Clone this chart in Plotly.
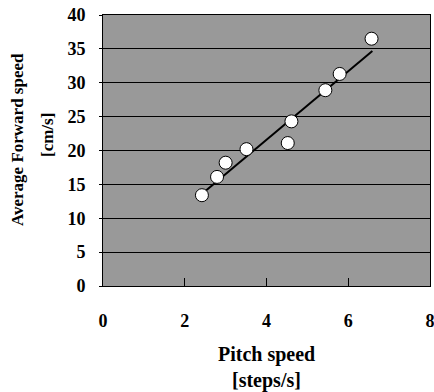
import plotly.graph_objects as go

pitch_speed = [2.42, 2.79, 3.0, 3.51, 4.52, 4.61, 5.44, 5.79, 6.57]
forward_speed = [13.4, 16.1, 18.2, 20.2, 21.1, 24.3, 28.9, 31.3, 36.5]
trend_x = [2.44, 6.59]
trend_y = [13.7, 34.7]
x_ticks = [0, 2, 4, 6, 8]
y_ticks = [0, 5, 10, 15, 20, 25, 30, 35, 40]

FONT = "Liberation Serif"

fig = go.Figure()
fig.add_trace(go.Scatter(x=trend_x, y=trend_y, mode="lines",
                         line=dict(color="black", width=2), showlegend=False))
fig.add_trace(go.Scatter(x=pitch_speed, y=forward_speed, mode="markers",
                         marker=dict(size=13, color="white",
                                     line=dict(color="black", width=1)),
                         showlegend=False))

fig.update_layout(
    width=434, height=392,
    margin=dict(l=103, r=4, t=15, b=106),
    paper_bgcolor="white", plot_bgcolor="#999999",
    font=dict(family=FONT, size=18, color="black"),
    xaxis=dict(range=[0, 8], tickvals=x_ticks,
               ticktext=[f"<b>{v}</b>" for v in x_ticks],
               showgrid=False, zeroline=False, automargin=False,
               showline=True, linecolor="black", linewidth=1, mirror=True,
               ticks="inside", ticklen=8, tickcolor="black",
               ticklabelstandoff=18, ticklabeloverflow="allow",
               tickfont=dict(family=FONT, size=18)),
    yaxis=dict(range=[0, 40], tickvals=y_ticks,
               ticktext=[f"<b>{v}</b>" for v in y_ticks],
               showgrid=True, gridcolor="black",
               gridwidth=1, zeroline=False, automargin=False,
               showline=True, linecolor="black", linewidth=1, mirror=True,
               ticks="outside", ticklen=3, tickcolor="black",
               ticklabelstandoff=10, ticklabeloverflow="allow",
               tickfont=dict(family=FONT, size=18)),
    annotations=[
        dict(text="<b>Pitch speed</b>", x=0.5, xref="paper", y=355, yref="paper",
             showarrow=False, font=dict(family=FONT, size=20)),
        dict(text="<b>[steps/s]</b>", x=0.5, xref="paper", y=380, yref="paper",
             showarrow=False, font=dict(family=FONT, size=20)),
        dict(text="<b>Average Forward speed</b>", x=17, xref="paper", y=140, yref="paper",
             showarrow=False, textangle=-90, font=dict(family=FONT, size=17)),
        dict(text="<b>[cm/s]</b>", x=47, xref="paper", y=135, yref="paper",
             showarrow=False, textangle=-90, font=dict(family=FONT, size=17)),
    ],
)

# convert pixel positions of annotations into paper coordinates
pw = 434 - 103 - 4
ph = 392 - 15 - 106
for a in fig.layout.annotations:
    if a.x != 0.5:
        a.x = (a.x - 103) / pw
    a.y = (392 - 106 - a.y) / ph
    a.xanchor = "center"
    a.yanchor = "middle"

fig.write_html("out.html")
